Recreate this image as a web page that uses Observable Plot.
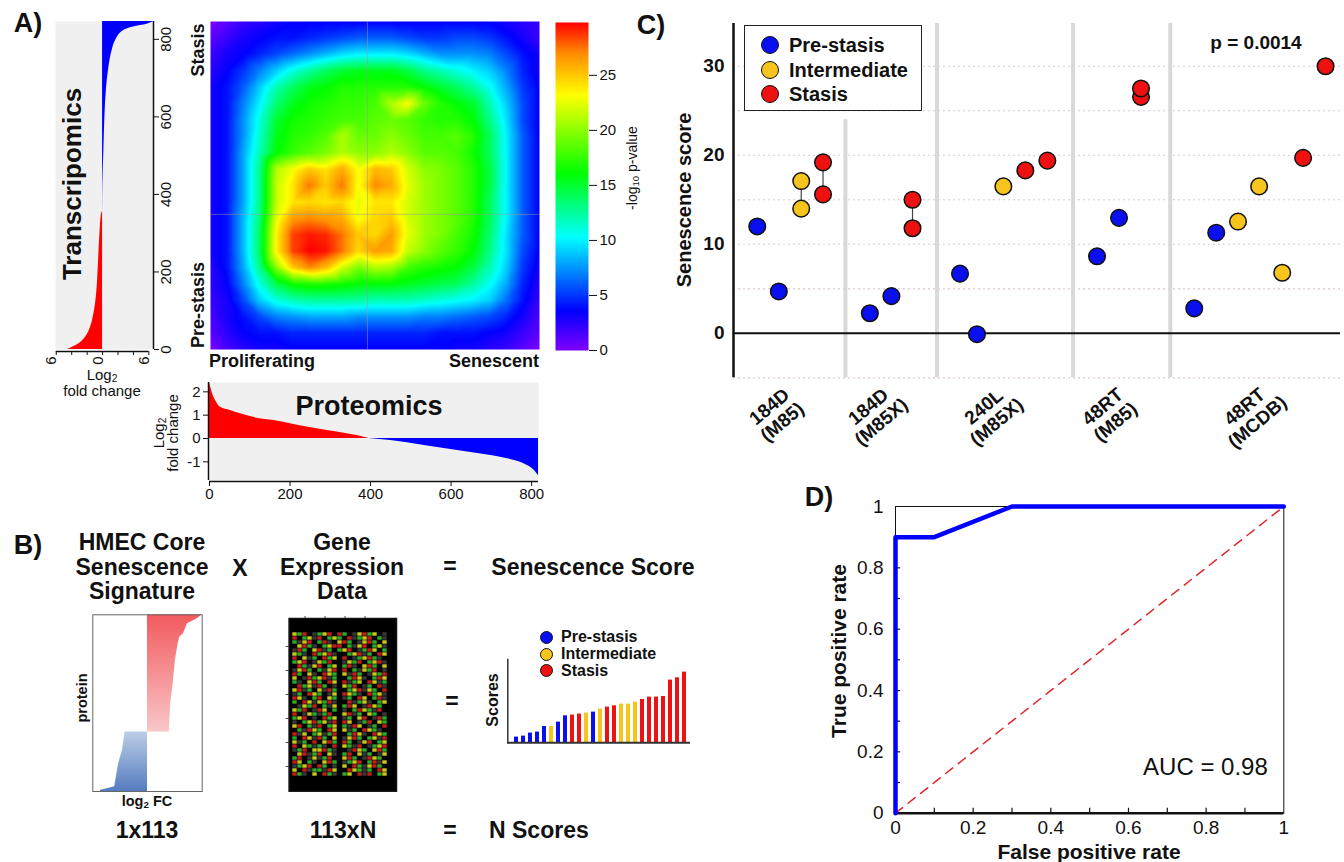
<!DOCTYPE html>
<html><head><meta charset="utf-8">
<script src="https://cdn.jsdelivr.net/npm/d3@7"></script>
<script src="https://cdn.jsdelivr.net/npm/@observablehq/plot@0.6"></script>
<style>
body{margin:0;background:#fff;}
#root{position:relative;width:1344px;height:862px;overflow:hidden;background:#fff;font-family:"Liberation Sans",Arial,Helvetica,sans-serif;color:#111;}
sub{font-size:0.68em;vertical-align:-0.25em;line-height:0;}
</style></head><body>
<svg width="0" height="0" style="position:absolute"><defs>
<linearGradient id="redGrad" x1="0" y1="0" x2="0" y2="1"><stop offset="0" stop-color="#f15a5e"/><stop offset="1" stop-color="#f9c7c9"/></linearGradient>
<linearGradient id="blueGrad" x1="0" y1="0" x2="0" y2="1"><stop offset="0" stop-color="#bccde7"/><stop offset="1" stop-color="#547cbf"/></linearGradient>
</defs></svg>
<div id="root"></div>
<script>
// ===================== DATA =====================
// Panel A – transcriptomics ranked log2 fold change (rank, value; positive drawn to the left)
const trRed  = [[0,4.56],[6,3.9],[15,3.05],[32,2.19],[58,1.55],[92,1.12],[144,0.77],[212,0.56],[299,0.34],[350,0.13],[356,0.02]];
const trBlue = [[357,-0.01],[428,-0.04],[513,-0.17],[600,-0.3],[677,-0.52],[728,-0.82],[772,-1.25],[797,-1.68],[823,-2.75],[832,-4.0],[839,-5.76],[846,-6.6]];
const trTicks = [0,200,400,600,800];
// Panel A – proteomics ranked log2 fold change (rank, value)
const prRed  = [[0,2.4],[3,2.2],[8,1.9],[15,1.63],[27,1.34],[52,1.2],[77,1.06],[118,0.87],[160,0.77],[201,0.63],[242,0.49],[292,0.34],[342,0.2],[392,0.02],[396,0]];
const prBlue = [[396,0],[450,-0.09],[533,-0.3],[616,-0.51],[699,-0.73],[740,-0.87],[782,-1.09],[807,-1.37],[817,-1.6]];
const prTicksY = [-1,0,1,2];
const prTicksX = [0,200,400,600,800];
// Panel A – rank-rank hypergeometric map, -log10 p-value (rows top→bottom: Stasis→Pre-stasis; cols left→right: Proliferating→Senescent)
const hmRows = [
 [0,1,2,2.5,3,3.5,3.5,3.5,3.5,3.5,3.5,3.5,3.5,3.5,3.5,3.5,3.5,3.5,3,2.5,2],
 [1,2,3,3.5,4,4,4.5,5,5.5,6,6,6,5.5,5,5,5.5,5.5,5,4,3,2],
 [2,3,3.5,4.5,5.5,6.5,7.5,8.5,9.5,10,10,10,9.5,8.5,7.5,7.5,7.5,7,5.5,4,3],
 [2.5,3.5,5,7,9,11,12.5,14,15,15.5,15.5,15.5,14.5,13,12,11,10,9,7,4.5,3],
 [3,4,6,9,12,14,15.5,16,17,17,17,17,17,16,15,14,12.5,10.5,8,5,3.5],
 [3,4,7,10,13.5,15.5,16.5,17,17.5,17.5,18,21,23,19,17,16,15,12,9,5.5,3.5],
 [3,4,7.5,11,15,16.5,17,17.5,18,18,18.5,19,18.5,17.5,17,17,16,13,9.5,5.5,3.5],
 [3,4,7.5,11.5,15.5,17,17.5,18.5,21,19,19,20,19,18,18,18.5,17,14,10,6,3.5],
 [3,4,8,12,16,17.5,18.5,19.5,21,20,20,21,20,18.5,18.5,18,16.5,14,10,6,3.5],
 [3,4,8,13,21,23,25,24,26,23,25.5,25,22,20,19.5,18.5,17,14.5,10,6,3.5],
 [3,4,8,13,21.5,24,27.5,25,27.5,23,27,26,22.5,20.5,19.5,18.5,17,14.5,10,6,3.5],
 [3,4,8,13,21.5,24,24.5,24,24.5,22.5,24,24,22,20.5,19.5,18.5,17,14,10,6,3.5],
 [3,4,8.5,13.5,22.5,26.5,27,26.5,26,23,24.5,25,22,20.5,19.5,18.5,17,14,10,6,3.5],
 [3,4,8.5,14,23.5,28.5,29.3,29,27.5,25,24.5,26.5,22.5,20.5,19.5,18,16.5,13.5,9.5,6,3.5],
 [3,4,8.5,14,23.5,28.5,29.8,29.5,27.5,24.5,26.5,26,21.5,20,18.5,17.5,16,13,9.5,5.5,3.5],
 [2.5,4,8,13,20,25,27,25.5,22,19.5,21,20.5,18,17,16.5,16,14.5,12,9,5,3],
 [2.5,3.5,7,11,14.5,16.5,17,17,16.5,16,16,16,15.5,15,14.5,14,12.5,10.5,8,4.5,2.5],
 [2,3,5.5,9,11,12,12.5,12.5,12.5,12.5,12,12,12,11.5,11,10.5,10,9,6.5,4,2],
 [1.5,3,4,5.5,7,7.5,8,8,8,7.5,7.5,7.5,7.5,7,7,6.5,6,5.5,4.5,3,1.5],
 [1,2.5,3.5,4,4,4.5,4.5,4.5,4.5,4.5,4.5,4.5,4.5,4.5,4,4,4,3.5,3,2,1],
 [0,1.5,2.5,3,3,3.5,3.5,3.5,3.5,3.5,3.5,3.5,3.5,3.5,3.5,3,3,2.5,2,1,0]
];
const pDomain = [0,3.6,10.3,16.1,23.2,27,29.8];
const pColors = ["#8000ff","#0000ff","#00ffff","#00ff00","#ffff00","#ff8c00","#ff0000"];
const pTicks = [0,5,10,15,20,25];

// Panel B – core signature (protein rank from top, log2 FC scaled)
const sigRed  = [[0,1.0],[2.6,0.91],[5.8,0.73],[12,0.66],[14.3,0.59],[18.5,0.56],[29,0.51],[44,0.47],[55,0.43],[65.5,0.41],[75,0.40]];
const sigBlue = [[75,-0.41],[80,-0.43],[87,-0.46],[93,-0.51],[97.5,-0.54],[104,-0.57],[110,-0.6],[111.2,-0.74],[112.2,-0.86],[113,-0.86]];
// Panel B – expression data thumbnail (k black, d dark, r red, g green, y yellow)
const exprRows = [
 "ygrkdgyrkrgkdyrgykdk","rkgydrkgygkrdgyrkgdk","gdyrkgrdkyrgkdyrgkyk","kyrgdkgyrrkgdyrkgydk",
 "drgkyrdgkgyrkdgrykgk","ygdkrgyrdkkgyrdgkryk","rkydgkrgykrkdgyrgdkk","gyrkdygrkkdygrkgyrdk",
 "krgdyrkgykgrdkyrgkyk","dyrgkgdyrkrkgdygrkdk","rgkydkrygkydrgkdygrk","ykdrgyrdgkkgrydkgryk",
 "gdkyrgkrykrdgykrydgk","krgydrgkdkygrkdgkrdk","yrdgkydrgkkgyrdygkrk","dgkrygkdykrygdkrgydk",
 "rydkgrkygkdgkrykgrdk","gkrydygrdkkrdgydkgyk","kdygrkgdykgrykdrygkk","ygrkdrykgkdkgrygdrkk",
 "rkdygdgrkkyrdgkygkdk","gyrkdkrgykdgkyrkdrgk","dkgyrgydrkrykdgrkygk","yrkgdrkgykgdrykdgkrk",
 "kgdrygkrykydgkrygdkk","rdykgydgrkkgrydkrygk","gkrydrgkykdyrgkgydrk","ydgkrkyrgkrgkdyrkgyk",
 "rkygdgdkrkygdrkdgyrk","dgrkyyrgdkkdrygkyrgk","kyrdgrkydkgrkydgkdyk","grkdydgrkkyrgkdrygkk",
 "rykgdkyrgkdgyrkgrdyk","dgyrkrgkdkykrgdyrgkk","ykrdggdrykkrygdgkryk","rgdkykrgdkgykrdrkgyk"
];
const exprColors = {k:"#050505", d:"#383838", r:"#c21c1c", g:"#2aaa2a", y:"#c8c81c"};
// Panel B – example scores
const bScores = [5.7,6.7,9.7,10.7,16.3,16.3,20.7,27,27.7,28.7,29.7,30.7,33.7,35.7,37,38.7,38.7,40.7,43.3,45.7,45.7,46.3,62.7,65,70.7];
const bStages = ["pre","pre","pre","pre","pre","int","pre","pre","sta","sta","int","pre","int","sta","sta","int","int","int","sta","sta","sta","sta","sta","sta","sta"];

// Panel C – senescence scores
const stageNames = {pre:"Pre-stasis", int:"Intermediate", sta:"Stasis"};
const stageColors = {pre:"#0a0ff0", int:"#f6c41c", sta:"#ee1111"};
const cLabels = ["184D\n(M85)","184D\n(M85X)","240L\n(M85X)","48RT\n(M85)","48RT\n(MCDB)"];
const cLabelPos = [2.4,6.9,12.15,17.55,24.0];
const cSeparators = [[5.09,24.0],[9.25,34.8],[15.44,34.8],[19.86,34.8]];
const cPos   = [1.08,2.06,3.08,3.08,4.07,4.07, 6.2,7.18,8.14,8.14, 10.3,11.07,12.27,13.27,14.27, 16.53,17.53,18.53,18.53, 20.95,21.95,22.94,23.9,24.95,25.9,26.92];
const cScore = [12.0,4.7,17.1,14.0,19.2,15.6, 2.25,4.17,15.0,11.8, 6.7,-0.1,16.5,18.3,19.4, 8.65,12.97,26.55,27.5, 2.8,11.3,12.55,16.5,6.8,19.7,30.0];
const cStage = ["pre","pre","int","int","sta","sta", "pre","pre","sta","sta", "pre","pre","int","sta","sta", "pre","pre","sta","sta", "pre","pre","int","int","int","sta","sta"];
const cPairs = [[3.08,17.1,14.0],[4.07,19.2,15.6],[8.14,15.0,11.8]];
const cTicks = [0,10,20,30];
const cGrid = [-5,5,10,15,20,25,30];

// Panel D – ROC
const rocFpr = [0,0,0.1,0.3,1];
const rocTpr = [0,0.9,0.9,1,1];
const dTickLabels = [0,0.2,0.4,0.6,0.8,1];
const dMinorTicks = [0.1,0.2,0.3,0.4,0.5,0.6,0.7,0.8,0.9];

// ===================== HELPERS =====================
const root = document.getElementById('root');
const FONT = '"Liberation Sans", Arial, Helvetica, sans-serif';
const baseStyle = {fontFamily: FONT, fontSize: "15px", background: "transparent", overflow: "visible", color: "#111"};
const fmt = d => String(d);
function place(el, left, top){ el.style.position='absolute'; el.style.left=left+'px'; el.style.top=top+'px'; root.appendChild(el); return el; }
function T(html, x, y, o={}){
  const d=document.createElement('div');
  d.innerHTML=html;
  const anchor=o.anchor||'middle';
  const tx = anchor==='start'?'0%':anchor==='end'?'-100%':'-50%';
  const org = anchor==='start'?'0% 50%':anchor==='end'?'100% 50%':'50% 50%';
  d.style.cssText=`position:absolute;left:${x}px;top:${y}px;font-size:${o.size||15}px;font-weight:${o.weight||'normal'};line-height:1;white-space:nowrap;transform:translate(${tx},-50%) rotate(${o.rot||0}deg);transform-origin:${org};color:${o.color||'#111'};font-family:${FONT};`;
  root.appendChild(d); return d;
}
function dotDiv(x, y, r, fill, sw){
  const d=document.createElement('div');
  d.style.cssText=`position:absolute;left:${x-r}px;top:${y-r}px;width:${2*r}px;height:${2*r}px;border-radius:50%;background:${fill};box-sizing:border-box;border:${sw}px solid #111;`;
  root.appendChild(d);
}

// ===================== PANEL A =====================
T("A)", 28, 23, {size:27, weight:"bold"});
place(Plot.plot({
  width:200, height:400, marginLeft:55, marginRight:47, marginTop:21, marginBottom:51,
  style: baseStyle,
  x:{domain:[6.1,-6.6], axis:null}, y:{domain:[0,846], axis:null},
  marks:[
    Plot.frame({fill:"#f0f0f0", stroke:"none"}),
    Plot.areaX(trRed, {x:d=>d[1], y:d=>d[0], fill:"#ff0000", curve:"monotone-y"}),
    Plot.areaX(trBlue, {x:d=>d[1], y:d=>d[0], fill:"#0000ff", curve:"monotone-y"}),
    Plot.ruleX([-6.6], {stroke:"#111", strokeWidth:1.5}),
    Plot.axisY({anchor:"right", ticks:trTicks, tickSize:5, tickFormat:()=>"", label:null}),
    Plot.text(trTicks, {x:-6.6, y:d=>d, text:d=>String(d), rotate:-90, dx:13, fontSize:15}),
    Plot.ruleY([0], {x1:6, x2:-6, dy:2, stroke:"#111", strokeWidth:1.5}),
    Plot.axisX({anchor:"bottom", ticks:[6,4,2,0,-2,-4,-6], tickSize:4, tickFormat:()=>"", dy:2, label:null}),
    Plot.text([6,0,-6], {x:d=>d, frameAnchor:"bottom", dy:11, text:d=>String(Math.abs(d)), rotate:-90, fontSize:15})
  ]}), 0, 0);
T("Transcripomics", 72, 184, {size:26, weight:"bold", rot:-90});
T("Log<sub>2</sub>", 102, 374, {size:15});
T("fold change", 102, 390, {size:15});

const hmPts = [];
hmRows.forEach((row, j) => row.forEach((val, i) => hmPts.push({u: i/(row.length-1), v: j/(hmRows.length-1), val})));
const colorOpts = {type:"linear", domain:pDomain, range:pColors, interpolate:"rgb", clamp:true};
place(Plot.plot({
  width:345, height:360, marginLeft:10, marginRight:6, marginTop:21, marginBottom:11,
  style: baseStyle,
  x:{domain:[0,1], axis:null}, y:{domain:[1,0], axis:null}, color: colorOpts,
  marks:[
    Plot.raster(hmPts, {x:"u", y:"v", fill:"val", interpolate:"barycentric", x1:0, x2:1, y1:0, y2:1}),
    Plot.ruleX([0.477], {stroke:"#9a9a9a", strokeOpacity:0.5, strokeWidth:1}),
    Plot.ruleY([0.588], {stroke:"#9a9a9a", strokeOpacity:0.5, strokeWidth:1})
  ]}), 200, 0);
T("Stasis", 198, 50, {size:18, weight:"bold", rot:-90});
T("Pre-stasis", 198, 305, {size:18, weight:"bold", rot:-90});
T("Proliferating", 209, 361, {size:18, weight:"bold", anchor:"start"});
T("Senescent", 539, 361, {size:18, weight:"bold", anchor:"end"});

place(Plot.plot({
  width:110, height:355, marginLeft:10, marginRight:67, marginTop:12, marginBottom:15,
  style: baseStyle,
  x:{domain:[0,1], axis:null}, y:{domain:[0,29.8], axis:null}, color: colorOpts,
  marks:[
    Plot.raster({fill:(x,y)=>y, x1:0, x2:1, y1:0, y2:29.8, width:1, height:328}),
    Plot.axisY({anchor:"right", ticks:pTicks, tickSize:8, tickPadding:3, tickFormat:fmt, label:null})
  ]}), 545, 10);
T("-log<sub>10</sub> p-value", 632, 168, {size:14, rot:-90});

place(Plot.plot({
  width:420, height:135, marginLeft:69, marginRight:22, marginTop:12, marginBottom:25,
  style: baseStyle,
  x:{domain:[0,817], axis:null}, y:{domain:[-1.8,2.4], axis:null},
  marks:[
    Plot.frame({fill:"#f0f0f0", stroke:"none"}),
    Plot.areaY(prRed, {x:d=>d[0], y:d=>d[1], fill:"#ff0000", curve:"monotone-x"}),
    Plot.areaY(prBlue, {x:d=>d[0], y:d=>d[1], fill:"#0000ff", curve:"monotone-x"}),
    Plot.ruleX([0], {stroke:"#111", strokeWidth:1.5, dx:-1}),
    Plot.ruleY([-1.8], {stroke:"#111", strokeWidth:1.5, dy:1}),
    Plot.axisY({anchor:"left", ticks:prTicksY, tickSize:5, tickPadding:3, dx:-1, tickFormat:fmt, label:null}),
    Plot.axisX({anchor:"bottom", ticks:prTicksX, tickSize:5, tickPadding:2, dy:1, tickFormat:fmt, label:null})
  ]}), 140, 370);
T("Proteomics", 369, 406, {size:27, weight:"bold"});
T("Log<sub>2</sub>", 158, 433, {size:15, rot:-90});
T("fold change", 172, 433, {size:15, rot:-90});

// ===================== PANEL B =====================
T("B)", 28, 545, {size:27, weight:"bold"});
T("HMEC Core", 142, 542, {size:23, weight:"bold"});
T("Senescence", 142, 567, {size:23, weight:"bold"});
T("Signature", 142, 591, {size:23, weight:"bold"});
T("X", 240, 568, {size:23, weight:"bold"});
T("Gene", 342, 542, {size:23, weight:"bold"});
T("Expression", 342, 567, {size:23, weight:"bold"});
T("Data", 342, 591, {size:23, weight:"bold"});
T("=", 450, 566, {size:23, weight:"bold"});
T("Senescence Score", 593, 567, {size:23, weight:"bold"});

place(Plot.plot({
  width:135, height:200, marginLeft:12.3, marginRight:13.3, marginTop:14.3, marginBottom:9,
  style: baseStyle,
  x:{domain:[-1,1], axis:null}, y:{domain:[113,0], axis:null},
  marks:[
    Plot.areaX(sigRed, {x:d=>d[1], y:d=>d[0], fill:"url(#redGrad)"}),
    Plot.areaX(sigBlue, {x:d=>d[1], y:d=>d[0], fill:"url(#blueGrad)"}),
    Plot.frame({stroke:"#666", strokeWidth:1})
  ]}), 80, 600);
T("protein", 82, 698, {size:14.5, weight:"bold", rot:-90});
T("log<sub>2</sub> FC", 147, 801, {size:14.5, weight:"bold"});

const exprCells = [];
exprRows.forEach((row, r) => row.split("").forEach((ch, c) => exprCells.push({r, c, col: exprColors[ch]})));
place(Plot.plot({
  width:125, height:190, marginLeft:8.6, marginRight:9, marginTop:8, marginBottom:9.3,
  style: baseStyle,
  x:{type:"band", domain:exprRows[0].split("").map((_, i) => i), padding:0, axis:null},
  y:{type:"band", domain:exprRows.map((_, i) => i), padding:0, axis:null},
  color:{type:"identity"},
  marks:[
    Plot.frame({fill:"#000"}),
    Plot.cell(exprCells, {x:"c", y:"r", fill:"col", inset:0.3}),
    Plot.axisY({anchor:"left", ticks:[3,9,15,21,27,33], tickSize:3, tickFormat:()=>"", stroke:"#444", label:null}),
    Plot.axisX({anchor:"top", ticks:[2,6,10,14], tickSize:3, tickFormat:()=>"", stroke:"#444", label:null}),
    Plot.frame({stroke:"#111", strokeWidth:1.5})
  ]}), 280, 610);

T("=", 452, 701, {size:23, weight:"bold"});
place(Plot.plot({
  width:200, height:100, marginLeft:12.3, marginRight:5, marginTop:9, marginBottom:7.7,
  style: baseStyle,
  x:{type:"band", domain:bScores.map((_, i) => i), range:[14.5, 195], paddingInner:0.38, paddingOuter:0.05, axis:null},
  y:{domain:[0,83.3], axis:null},
  color:{type:"identity"},
  marks:[
    Plot.barY(bScores, {x:(d, i) => i, y:d=>d, fill:(d, i) => stageColors[bStages[i]]}),
    Plot.frame({anchor:"left", stroke:"#333", strokeWidth:1.5}),
    Plot.ruleY([0], {stroke:"#333", strokeWidth:2})
  ]}), 495, 650);
T("Scores", 493, 700, {size:16, weight:"bold", rot:-90});
["pre","int","sta"].forEach((s, i) => {
  dotDiv(546, 637.3 + i*16.7, 6.5, stageColors[s], 1.3);
  T(stageNames[s], 561, 637.3 + i*16.7, {size:16, weight:"bold", anchor:"start"});
});

T("1x113", 147, 830, {size:23, weight:"bold"});
T("113xN", 343, 830, {size:23, weight:"bold"});
T("=", 450, 830, {size:23, weight:"bold"});
T("N Scores", 489, 830, {size:23, weight:"bold", anchor:"start"});

// ===================== PANEL C =====================
T("C)", 651, 25, {size:27, weight:"bold"});
const cPoints = cPos.map((p, i) => ({pos: p, score: cScore[i], stage: cStage[i]}));
place(Plot.plot({
  width:684, height:470, marginLeft:73, marginRight:4, marginTop:23, marginBottom:92.7,
  style: baseStyle,
  x:{domain:[0,27.6], axis:null}, y:{domain:[-5,34.8], axis:null},
  color:{type:"identity"},
  marks:[
    Plot.ruleY(cGrid, {stroke:"#d9c7cf", strokeDasharray:"2,3", strokeWidth:1.2}),
    Plot.ruleX(cSeparators, {x:d=>d[0], y1:-5, y2:d=>d[1], stroke:"#d9d9d9", strokeWidth:4}),
    Plot.ruleY([0], {stroke:"#111", strokeWidth:2}),
    Plot.ruleX([0], {y1:-5, y2:34.8, stroke:"#111", strokeWidth:2.5}),
    Plot.link(cPairs, {x1:d=>d[0], x2:d=>d[0], y1:d=>d[1], y2:d=>d[2], stroke:"#444", strokeWidth:1.2}),
    Plot.dot(cPoints, {x:"pos", y:"score", r:8.3, fill:d=>stageColors[d.stage], stroke:"#111", strokeWidth:1.5}),
    Plot.text(cTicks, {x:0, y:d=>d, text:d=>String(d), dx:-9, textAnchor:"end", fontSize:19, fontWeight:"bold"}),
    Plot.text(cLabels, {x:(d, i) => cLabelPos[i], text:d=>d, frameAnchor:"bottom", dy:49, rotate:-40, fontSize:19, fontWeight:"bold", lineHeight:1.05})
  ]}), 660, 0);
T("Senescence score", 684, 200, {size:20, weight:"bold", rot:-90});
T("p = 0.0014", 1256, 42, {size:19, weight:"bold"});
(function(){
  const box=document.createElement('div');
  box.style.cssText="position:absolute;left:744px;top:25px;width:178px;height:86px;border:1.5px solid #222;box-sizing:border-box;background:#fff;";
  root.appendChild(box);
  ["pre","int","sta"].forEach((s, i) => {
    dotDiv(770, 45 + i*24.5, 9, stageColors[s], 1.5);
    T(stageNames[s], 789, 45 + i*24.5, {size:20, weight:"bold", anchor:"start"});
  });
})();

// ===================== PANEL D =====================
T("D)", 819, 497, {size:27, weight:"bold"});
const roc = rocFpr.map((f, i) => ({fpr: f, tpr: rocTpr[i]}));
place(Plot.plot({
  width:520, height:380, marginLeft:75, marginRight:56.7, marginTop:26, marginBottom:47.3,
  style: {...baseStyle, fontSize:"19px"},
  x:{domain:[0,1], axis:null}, y:{domain:[0,1], axis:null},
  marks:[
    Plot.frame({stroke:"#111", strokeWidth:1}),
    Plot.ruleX(dMinorTicks, {y1:0, y2:0.016, stroke:"#111", strokeWidth:1.2}),
    Plot.ruleY(dMinorTicks, {x1:0, x2:0.013, stroke:"#111", strokeWidth:1.2}),
    Plot.ruleY([0], {stroke:"#111", strokeWidth:2.5}),
    Plot.axisX({anchor:"bottom", ticks:dTickLabels, tickSize:0, tickPadding:7, tickFormat:fmt, label:null}),
    Plot.axisY({anchor:"left", ticks:dTickLabels, tickSize:0, tickPadding:12, tickFormat:fmt, label:null}),
    Plot.line([[0,0],[1,1]], {x:d=>d[0], y:d=>d[1], stroke:"#e0262b", strokeWidth:1.5, strokeDasharray:"9,7"}),
    Plot.line(roc, {x:"fpr", y:"tpr", stroke:"#0000ff", strokeWidth:4.5}),
    Plot.text(["AUC = 0.98"], {frameAnchor:"bottom-right", dx:-16, dy:-38, textAnchor:"end", fontSize:24})
  ]}), 820, 480);
T("True positive rate", 838, 651, {size:21, weight:"bold", rot:-90});
T("False positive rate", 1089, 851, {size:21, weight:"bold"});
</script>
</body></html>
